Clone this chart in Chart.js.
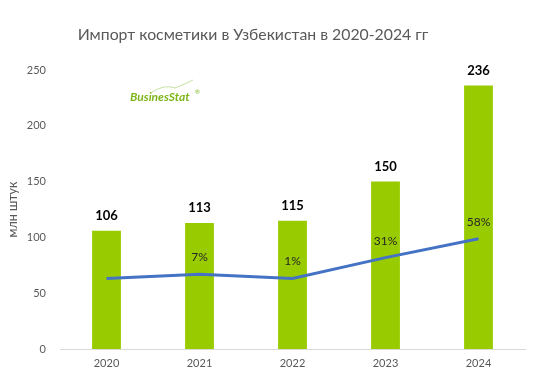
<!DOCTYPE html>
<html>
<head>
<meta charset="utf-8">
<script src="https://cdn.jsdelivr.net/npm/chart.js@4"></script>
<style>
  html, body { margin: 0; padding: 0; background: #fff; }
  #wrap { position: relative; width: 560px; height: 392px; }
</style>
</head>
<body>
<div id="wrap"><canvas id="chartImport" width="560" height="392"></canvas></div>
<script>
// Импорт косметики в Узбекистан, млн штук
const years = ["2020", "2021", "2022", "2023", "2024"];
const importVolume = [106, 113, 115, 150, 236];
const growthPct = [1, 7, 1, 31, 58];
const growthLabels = ["", "7%", "1%", "31%", "58%"];
const yTicks = [0, 50, 100, 150, 200, 250];
const chartTitle = "Импорт косметики в Узбекистан в 2020-2024 гг";

const FONT = "Lato, 'Open Sans', sans-serif";
const GREEN = "#99CC00";
const BLUE = "#4472C4";
const GREY = "#595959";

// Заголовок, подписи значений и логотип
const labelPlugin = {
  id: "labels",
  afterDatasetsDraw(chart) {
    const ctx = chart.ctx;
    ctx.save();
    ctx.textAlign = "center";
    ctx.textBaseline = "middle";

    ctx.font = "15.8px " + FONT;
    ctx.fillStyle = GREY;
    ctx.fillText(chartTitle, 253, 35);

    const bars = chart.getDatasetMeta(1).data;
    ctx.font = "bold 13px " + FONT;
    ctx.fillStyle = "#000";
    bars.forEach((b, i) => {
      ctx.fillText(String(importVolume[i]), b.x, b.y - 15);
    });

    const pts = chart.getDatasetMeta(0).data;
    ctx.font = "12px " + FONT;
    ctx.fillStyle = "#262626";
    pts.forEach((p, i) => {
      if (growthLabels[i]) ctx.fillText(growthLabels[i], p.x, p.y - 17);
    });

    // логотип BusinesStat
    ctx.textAlign = "left";
    ctx.font = "italic bold 12px " + FONT;
    ctx.fillStyle = "#7DB61C";
    ctx.fillText("BusinesStat", 130, 97);
    ctx.strokeStyle = "#B8D98A";
    ctx.lineWidth = 0.8;
    ctx.beginPath();
    ctx.moveTo(152, 92);
    ctx.quadraticCurveTo(165, 84, 175, 88);
    ctx.quadraticCurveTo(185, 84, 193, 80);
    ctx.stroke();
    ctx.font = "6px " + FONT;
    ctx.fillText("®", 195, 92);
    ctx.restore();
  }
};

new Chart(document.getElementById("chartImport"), {
  data: {
    labels: years,
    datasets: [
      {
        type: "line",
        label: "Прирост, %",
        data: growthPct,
        yAxisID: "y1",
        borderColor: BLUE,
        borderWidth: 3,
        pointRadius: 0,
        tension: 0,
        order: 0
      },
      {
        type: "bar",
        label: "млн штук",
        data: importVolume,
        yAxisID: "y",
        backgroundColor: GREEN,
        barPercentage: 0.31,
        categoryPercentage: 1,
        order: 1
      }
    ]
  },
  options: {
    responsive: false,
    animation: false,
    layout: { padding: { left: 0, right: 35, top: 70, bottom: 0 } },
    plugins: {
      legend: { display: false },
      tooltip: { enabled: false },
      title: { display: false }
    },
    scales: {
      x: {
        grid: { display: false, drawTicks: false },
        border: { color: "#D9D9D9", width: 1 },
        ticks: { color: GREY, font: { family: FONT, size: 11 }, padding: 8 },
        afterFit(s) { s.height = 43; }
      },
      y: {
        min: 0,
        max: 250,
        afterBuildTicks(s) { s.ticks = yTicks.map(v => ({ value: v })); },
        grid: { display: false, drawTicks: false },
        border: { display: false },
        ticks: { color: GREY, font: { family: FONT, size: 11 }, padding: 14 },
        title: {
          display: true,
          text: "млн штук",
          color: GREY,
          font: { family: FONT, size: 12.5 },
          padding: { top: 5, bottom: 0 }
        },
        afterFit(s) { s.width = 60; }
      },
      y1: {
        display: false,
        min: -100,
        max: 300
      }
    }
  },
  plugins: [labelPlugin]
});
</script>
</body>
</html>
